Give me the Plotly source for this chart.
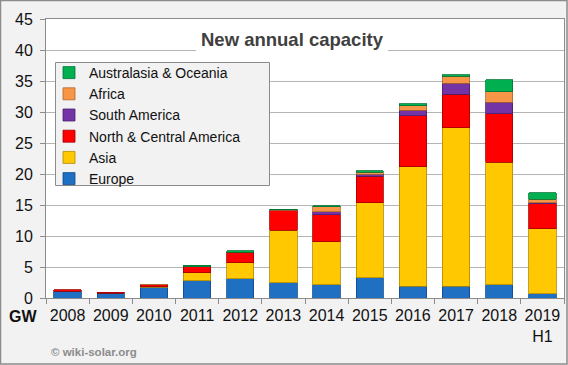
import plotly.graph_objects as go

years = ["2008", "2009", "2010", "2011", "2012", "2013", "2014", "2015",
         "2016", "2017", "2018", "2019<br>H1"]
europe = [1.1, 0.8, 1.7, 2.8, 3.1, 2.5, 2.1, 3.3, 1.9, 1.9, 2.1, 0.7]
asia = [None, None, 0.1, 1.3, 2.6, 8.4, 7.0, 12.1, 19.3, 25.6, 19.8, 10.5]
north_central_america = [0.2, 0.15, 0.35, 0.95, 1.7, 3.2, 4.3, 4.2, 8.2, 5.4, 7.8, 4.0]
south_america = [None, None, None, None, None, 0.05, 0.5, 0.4, 0.9, 1.7, 1.9, 0.2]
africa = [None, None, 0.1, None, None, 0.1, 0.8, 0.3, 0.7, 1.2, 1.7, 0.5]
australasia = [None, None, None, 0.2, 0.2, 0.05, 0.2, 0.2, 0.3, 0.2, 1.9, 1.1]

series = [
    ("Europe", europe, "#1f6fc2", "#0f4a8a"),
    ("Asia", asia, "#ffc800", "#b08a00"),
    ("North & Central America", north_central_america, "#ff0000", "#a00000"),
    ("South America", south_america, "#7434a6", "#4a1f6e"),
    ("Africa", africa, "#f79646", "#b0652a"),
    ("Australasia & Oceania", australasia, "#00b050", "#007434"),
]

W, H = 568, 365
L, R, T, B = 46, 4, 19, 67
PW, PH = W - L - R, H - T - B
YMAX = 45
NCAT = len(years)

def px(x):
    return (x - L) / PW

def py(y):
    return (H - B - y) / PH

def dx(x):
    return px(x) * NCAT - 0.5

def dy(y):
    return py(y) * YMAX

FONT = "Liberation Sans, Arial, sans-serif"

fig = go.Figure()
for name, vals, col, edge in series:
    fig.add_trace(go.Bar(
        x=years, y=vals, name=name, legendgroup=name,
        marker=dict(color=col, line=dict(color=edge, width=0.8)),
    ))

fig.update_layout(
    width=W, height=H,
    margin=dict(l=L, r=R, t=T, b=B, autoexpand=False),
    barmode="stack", bargap=0.365,
    paper_bgcolor="#f2f2f2", plot_bgcolor="#ffffff",
    font=dict(family=FONT, size=16, color="#111111"),
    showlegend=True,
    legend=dict(
        x=px(49), y=py(57), xanchor="left", yanchor="top",
        bgcolor="rgba(0,0,0,0)", borderwidth=0,
        traceorder="reversed", tracegroupgap=0,
        font=dict(family=FONT, size=14, color="#111111"),
    ),
    xaxis=dict(
        range=[-0.5, NCAT - 0.5],
        showline=True, linecolor="#8c8c8c", linewidth=1, mirror=True,
        ticks="outside", ticklen=5, tickcolor="#8c8c8c", tickson="boundaries",
        showgrid=False, tickfont=dict(size=16), tickangle=0,
        ticklabelstandoff=3,
    ),
    yaxis=dict(
        range=[0, YMAX], dtick=5, showline=True, linecolor="#8c8c8c", linewidth=1,
        mirror=True, ticks="outside", ticklen=5, tickcolor="#8c8c8c",
        gridcolor="#b4b4b4", gridwidth=1, zeroline=False,
        tickfont=dict(size=16), ticklabelstandoff=4,
    ),
    shapes=[
        dict(type="rect", xref="x", yref="y", layer="between",
             x0=dx(196), x1=dx(388), y0=dy(54), y1=dy(27),
             fillcolor="#ffffff", line=dict(width=0)),
        dict(type="rect", xref="x", yref="y", layer="between",
             x0=dx(55.5), x1=dx(269.5), y0=dy(185.5), y1=dy(62.5),
             fillcolor="#f2f2f2", line=dict(color="#8c8c8c", width=1)),
        dict(type="rect", xref="paper", yref="paper", layer="above",
             x0=px(0.5), x1=px(567), y0=py(364), y1=py(0.5),
             fillcolor="rgba(0,0,0,0)", line=dict(color="#8c8c8c", width=1.5)),
    ],
    annotations=[
        dict(text="<b>New annual capacity</b>", xref="paper", yref="paper",
             x=px(292), y=py(39), xanchor="center", yanchor="middle",
             showarrow=False, font=dict(family=FONT, size=18.5, color="#404040")),
        dict(text="<b>GW</b>", xref="paper", yref="paper",
             x=px(23), y=py(316), xanchor="center", yanchor="middle",
             showarrow=False, font=dict(family=FONT, size=16, color="#111111")),
        dict(text="<b>© wiki-solar.org</b>", xref="paper", yref="paper",
             x=px(49), y=py(352), xanchor="left", yanchor="middle",
             showarrow=False, font=dict(family=FONT, size=11.5, color="#8c8c8c")),
    ],
)

fig.write_html("out.html")
